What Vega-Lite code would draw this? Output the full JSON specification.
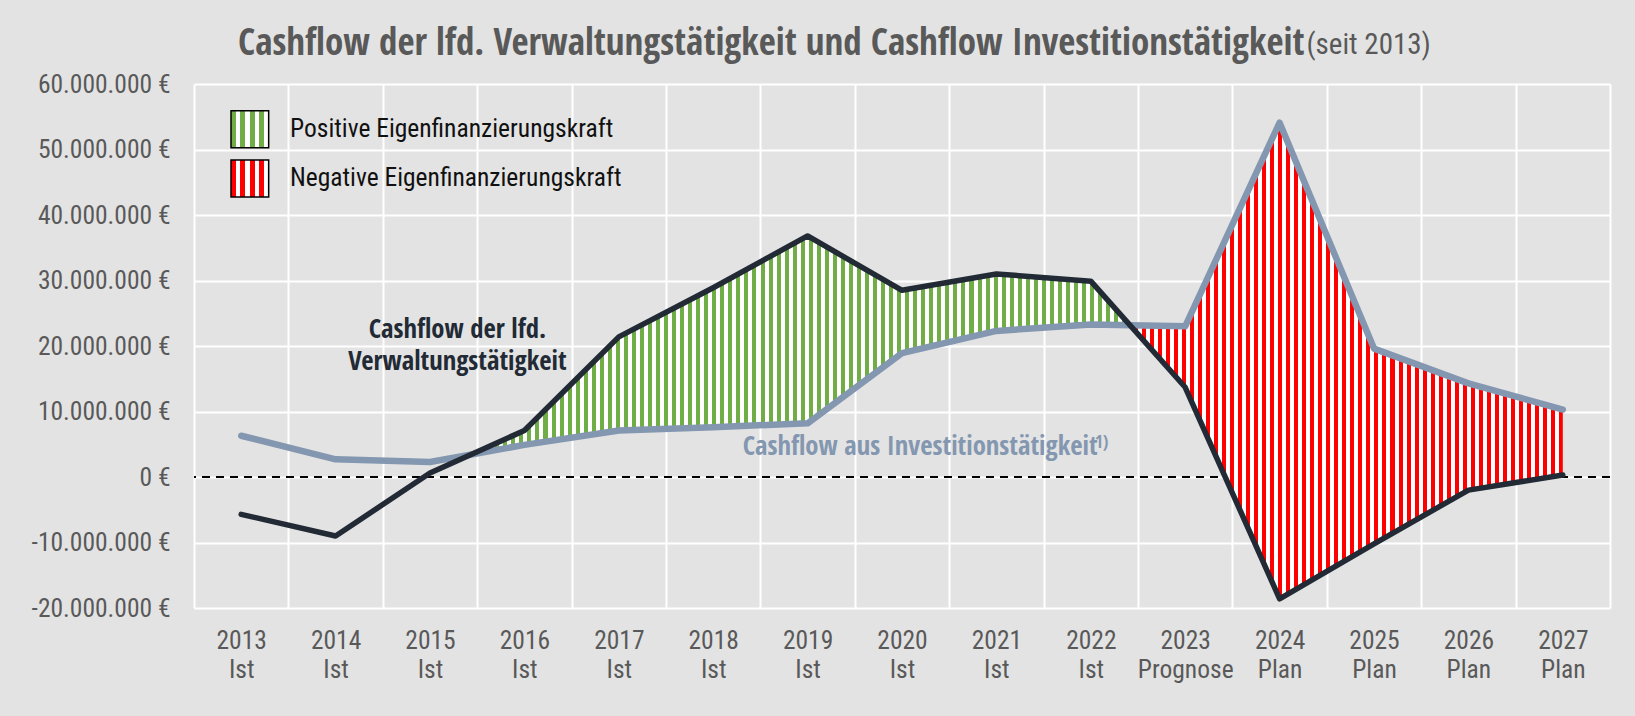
{
  "$schema": "https://vega.github.io/schema/vega-lite/v6.json",
  "width": 1416,
  "height": 524,
  "autosize": "none",
  "padding": {"left": 194, "top": 84, "right": 25, "bottom": 108},
  "background": "#e3e3e3",
  "title": {
    "text": "Cashflow der lfd. Verwaltungstätigkeit und Cashflow Investitionstätigkeit",
    "anchor": "start",
    "frame": "group",
    "dx": 44,
    "offset": -60.6,
    "baseline": "alphabetic",
    "font": "Open Sans Condensed, Roboto Condensed, Liberation Sans",
    "fontSize": 37,
    "fontWeight": "bold",
    "color": "#595959"
  },
  "config": {
    "view": {"stroke": null},
    "font": "Roboto Condensed, Liberation Sans",
    "locale": {
      "number": {"decimal": ",", "thousands": ".", "grouping": [3], "currency": ["", " €"], "minus": "-"}
    }
  },
  "datasets": {
    "cashflow": [
      {"jahr": 2013, "lfd": -5700000, "inv": 6300000},
      {"jahr": 2014, "lfd": -9000000, "inv": 2700000},
      {"jahr": 2015, "lfd": 600000, "inv": 2300000},
      {"jahr": 2016, "lfd": 7100000, "inv": 4900000},
      {"jahr": 2017, "lfd": 21400000, "inv": 7100000},
      {"jahr": 2018, "lfd": 28900000, "inv": 7600000},
      {"jahr": 2019, "lfd": 36800000, "inv": 8200000},
      {"jahr": 2020, "lfd": 28500000, "inv": 18900000},
      {"jahr": 2021, "lfd": 31000000, "inv": 22300000},
      {"jahr": 2022, "lfd": 29900000, "inv": 23300000},
      {"jahr": 2023, "lfd": 13700000, "inv": 23000000},
      {"jahr": 2024, "lfd": -18600000, "inv": 54100000},
      {"jahr": 2025, "lfd": -10200000, "inv": 19600000},
      {"jahr": 2026, "lfd": -2000000, "inv": 14300000},
      {"jahr": 2027, "lfd": 300000, "inv": 10300000}
    ],
    "positiv": [
      {"jahr": 2015.436, "oben": 3433000, "unten": 3433000},
      {"jahr": 2016, "oben": 7100000, "unten": 4900000},
      {"jahr": 2017, "oben": 21400000, "unten": 7100000},
      {"jahr": 2018, "oben": 28900000, "unten": 7600000},
      {"jahr": 2019, "oben": 36800000, "unten": 8200000},
      {"jahr": 2020, "oben": 28500000, "unten": 18900000},
      {"jahr": 2021, "oben": 31000000, "unten": 22300000},
      {"jahr": 2022, "oben": 29900000, "unten": 23300000},
      {"jahr": 2022.415, "oben": 23175000, "unten": 23175000}
    ],
    "negativ": [
      {"jahr": 2022.415, "oben": 23175000, "unten": 23175000},
      {"jahr": 2023, "oben": 23000000, "unten": 13700000},
      {"jahr": 2024, "oben": 54100000, "unten": -18600000},
      {"jahr": 2025, "oben": 19600000, "unten": -10200000},
      {"jahr": 2026, "oben": 14300000, "unten": -2000000},
      {"jahr": 2027, "oben": 10300000, "unten": 300000}
    ]
  },
  "layer": [
    {
      "data": {"values": [{"wert": 0}]},
      "mark": {"type": "rule", "color": "#000000", "strokeWidth": 2, "strokeDash": [8, 6]},
      "encoding": {
        "y": {
          "field": "wert", "type": "quantitative",
          "scale": {"domain": [-20000000, 60000000], "nice": false, "zero": false},
          "axis": {
            "values": [-20000000, -10000000, 0, 10000000, 20000000, 30000000, 40000000, 50000000, 60000000],
            "format": "$,.0f",
            "title": null,
            "grid": true, "gridColor": "#ffffff", "gridWidth": 2, "gridOpacity": 1,
            "domain": false, "ticks": false, "tickSize": 0,
            "labelPadding": 24,
            "labelFontSize": 25.5,
            "labelColor": "#595959",
            "labelFont": "Roboto Condensed, Liberation Sans"
          }
        }
      }
    },
    {
      "data": {"name": "positiv"},
      "mark": {
        "type": "area",
        "fill": {
          "gradient": "linear", "x1": 0, "y1": 0, "x2": 1, "y2": 0,
          "stops": [
            {"offset":0.0061,"color":"#70ad47"},{"offset":0.0061,"color":"#fff"},
            {"offset":0.0122,"color":"#fff"},{"offset":0.0122,"color":"#70ad47"},
            {"offset":0.0183,"color":"#70ad47"},{"offset":0.0183,"color":"#fff"},
            {"offset":0.0244,"color":"#fff"},{"offset":0.0244,"color":"#70ad47"},
            {"offset":0.0305,"color":"#70ad47"},{"offset":0.0305,"color":"#fff"},
            {"offset":0.0366,"color":"#fff"},{"offset":0.0366,"color":"#70ad47"},
            {"offset":0.0427,"color":"#70ad47"},{"offset":0.0427,"color":"#fff"},
            {"offset":0.0488,"color":"#fff"},{"offset":0.0488,"color":"#70ad47"},
            {"offset":0.0549,"color":"#70ad47"},{"offset":0.0549,"color":"#fff"},
            {"offset":0.061,"color":"#fff"},{"offset":0.061,"color":"#70ad47"},
            {"offset":0.0671,"color":"#70ad47"},{"offset":0.0671,"color":"#fff"},
            {"offset":0.0732,"color":"#fff"},{"offset":0.0732,"color":"#70ad47"},
            {"offset":0.0793,"color":"#70ad47"},{"offset":0.0793,"color":"#fff"},
            {"offset":0.0854,"color":"#fff"},{"offset":0.0854,"color":"#70ad47"},
            {"offset":0.0915,"color":"#70ad47"},{"offset":0.0915,"color":"#fff"},
            {"offset":0.0976,"color":"#fff"},{"offset":0.0976,"color":"#70ad47"},
            {"offset":0.1037,"color":"#70ad47"},{"offset":0.1037,"color":"#fff"},
            {"offset":0.1098,"color":"#fff"},{"offset":0.1098,"color":"#70ad47"},
            {"offset":0.1159,"color":"#70ad47"},{"offset":0.1159,"color":"#fff"},
            {"offset":0.122,"color":"#fff"},{"offset":0.122,"color":"#70ad47"},
            {"offset":0.1281,"color":"#70ad47"},{"offset":0.1281,"color":"#fff"},
            {"offset":0.1342,"color":"#fff"},{"offset":0.1342,"color":"#70ad47"},
            {"offset":0.1403,"color":"#70ad47"},{"offset":0.1403,"color":"#fff"},
            {"offset":0.1464,"color":"#fff"},{"offset":0.1464,"color":"#70ad47"},
            {"offset":0.1525,"color":"#70ad47"},{"offset":0.1525,"color":"#fff"},
            {"offset":0.1586,"color":"#fff"},{"offset":0.1586,"color":"#70ad47"},
            {"offset":0.1647,"color":"#70ad47"},{"offset":0.1647,"color":"#fff"},
            {"offset":0.1708,"color":"#fff"},{"offset":0.1708,"color":"#70ad47"},
            {"offset":0.1769,"color":"#70ad47"},{"offset":0.1769,"color":"#fff"},
            {"offset":0.183,"color":"#fff"},{"offset":0.183,"color":"#70ad47"},
            {"offset":0.1891,"color":"#70ad47"},{"offset":0.1891,"color":"#fff"},
            {"offset":0.1952,"color":"#fff"},{"offset":0.1952,"color":"#70ad47"},
            {"offset":0.2013,"color":"#70ad47"},{"offset":0.2013,"color":"#fff"},
            {"offset":0.2074,"color":"#fff"},{"offset":0.2074,"color":"#70ad47"},
            {"offset":0.2135,"color":"#70ad47"},{"offset":0.2135,"color":"#fff"},
            {"offset":0.2196,"color":"#fff"},{"offset":0.2196,"color":"#70ad47"},
            {"offset":0.2257,"color":"#70ad47"},{"offset":0.2257,"color":"#fff"},
            {"offset":0.2318,"color":"#fff"},{"offset":0.2318,"color":"#70ad47"},
            {"offset":0.2379,"color":"#70ad47"},{"offset":0.2379,"color":"#fff"},
            {"offset":0.244,"color":"#fff"},{"offset":0.244,"color":"#70ad47"},
            {"offset":0.2501,"color":"#70ad47"},{"offset":0.2501,"color":"#fff"},
            {"offset":0.2562,"color":"#fff"},{"offset":0.2562,"color":"#70ad47"},
            {"offset":0.2623,"color":"#70ad47"},{"offset":0.2623,"color":"#fff"},
            {"offset":0.2684,"color":"#fff"},{"offset":0.2684,"color":"#70ad47"},
            {"offset":0.2745,"color":"#70ad47"},{"offset":0.2745,"color":"#fff"},
            {"offset":0.2806,"color":"#fff"},{"offset":0.2806,"color":"#70ad47"},
            {"offset":0.2867,"color":"#70ad47"},{"offset":0.2867,"color":"#fff"},
            {"offset":0.2928,"color":"#fff"},{"offset":0.2928,"color":"#70ad47"},
            {"offset":0.2989,"color":"#70ad47"},{"offset":0.2989,"color":"#fff"},
            {"offset":0.305,"color":"#fff"},{"offset":0.305,"color":"#70ad47"},
            {"offset":0.3111,"color":"#70ad47"},{"offset":0.3111,"color":"#fff"},
            {"offset":0.3172,"color":"#fff"},{"offset":0.3172,"color":"#70ad47"},
            {"offset":0.3233,"color":"#70ad47"},{"offset":0.3233,"color":"#fff"},
            {"offset":0.3294,"color":"#fff"},{"offset":0.3294,"color":"#70ad47"},
            {"offset":0.3355,"color":"#70ad47"},{"offset":0.3355,"color":"#fff"},
            {"offset":0.3416,"color":"#fff"},{"offset":0.3416,"color":"#70ad47"},
            {"offset":0.3477,"color":"#70ad47"},{"offset":0.3477,"color":"#fff"},
            {"offset":0.3538,"color":"#fff"},{"offset":0.3538,"color":"#70ad47"},
            {"offset":0.3599,"color":"#70ad47"},{"offset":0.3599,"color":"#fff"},
            {"offset":0.366,"color":"#fff"},{"offset":0.366,"color":"#70ad47"},
            {"offset":0.3721,"color":"#70ad47"},{"offset":0.3721,"color":"#fff"},
            {"offset":0.3782,"color":"#fff"},{"offset":0.3782,"color":"#70ad47"},
            {"offset":0.3843,"color":"#70ad47"},{"offset":0.3843,"color":"#fff"},
            {"offset":0.3904,"color":"#fff"},{"offset":0.3904,"color":"#70ad47"},
            {"offset":0.3965,"color":"#70ad47"},{"offset":0.3965,"color":"#fff"},
            {"offset":0.4026,"color":"#fff"},{"offset":0.4026,"color":"#70ad47"},
            {"offset":0.4087,"color":"#70ad47"},{"offset":0.4087,"color":"#fff"},
            {"offset":0.4148,"color":"#fff"},{"offset":0.4148,"color":"#70ad47"},
            {"offset":0.4209,"color":"#70ad47"},{"offset":0.4209,"color":"#fff"},
            {"offset":0.427,"color":"#fff"},{"offset":0.427,"color":"#70ad47"},
            {"offset":0.4331,"color":"#70ad47"},{"offset":0.4331,"color":"#fff"},
            {"offset":0.4392,"color":"#fff"},{"offset":0.4392,"color":"#70ad47"},
            {"offset":0.4453,"color":"#70ad47"},{"offset":0.4453,"color":"#fff"},
            {"offset":0.4514,"color":"#fff"},{"offset":0.4514,"color":"#70ad47"},
            {"offset":0.4575,"color":"#70ad47"},{"offset":0.4575,"color":"#fff"},
            {"offset":0.4636,"color":"#fff"},{"offset":0.4636,"color":"#70ad47"},
            {"offset":0.4697,"color":"#70ad47"},{"offset":0.4697,"color":"#fff"},
            {"offset":0.4758,"color":"#fff"},{"offset":0.4758,"color":"#70ad47"},
            {"offset":0.4819,"color":"#70ad47"},{"offset":0.4819,"color":"#fff"},
            {"offset":0.488,"color":"#fff"},{"offset":0.488,"color":"#70ad47"},
            {"offset":0.4941,"color":"#70ad47"},{"offset":0.4941,"color":"#fff"},
            {"offset":0.5002,"color":"#fff"},{"offset":0.5002,"color":"#70ad47"},
            {"offset":0.5063,"color":"#70ad47"},{"offset":0.5063,"color":"#fff"},
            {"offset":0.5124,"color":"#fff"},{"offset":0.5124,"color":"#70ad47"},
            {"offset":0.5185,"color":"#70ad47"},{"offset":0.5185,"color":"#fff"},
            {"offset":0.5246,"color":"#fff"},{"offset":0.5246,"color":"#70ad47"},
            {"offset":0.5307,"color":"#70ad47"},{"offset":0.5307,"color":"#fff"},
            {"offset":0.5368,"color":"#fff"},{"offset":0.5368,"color":"#70ad47"},
            {"offset":0.5429,"color":"#70ad47"},{"offset":0.5429,"color":"#fff"},
            {"offset":0.549,"color":"#fff"},{"offset":0.549,"color":"#70ad47"},
            {"offset":0.5551,"color":"#70ad47"},{"offset":0.5551,"color":"#fff"},
            {"offset":0.5612,"color":"#fff"},{"offset":0.5612,"color":"#70ad47"},
            {"offset":0.5673,"color":"#70ad47"},{"offset":0.5673,"color":"#fff"},
            {"offset":0.5734,"color":"#fff"},{"offset":0.5734,"color":"#70ad47"},
            {"offset":0.5795,"color":"#70ad47"},{"offset":0.5795,"color":"#fff"},
            {"offset":0.5856,"color":"#fff"},{"offset":0.5856,"color":"#70ad47"},
            {"offset":0.5917,"color":"#70ad47"},{"offset":0.5917,"color":"#fff"},
            {"offset":0.5978,"color":"#fff"},{"offset":0.5978,"color":"#70ad47"},
            {"offset":0.6039,"color":"#70ad47"},{"offset":0.6039,"color":"#fff"},
            {"offset":0.61,"color":"#fff"},{"offset":0.61,"color":"#70ad47"},
            {"offset":0.6161,"color":"#70ad47"},{"offset":0.6161,"color":"#fff"},
            {"offset":0.6222,"color":"#fff"},{"offset":0.6222,"color":"#70ad47"},
            {"offset":0.6283,"color":"#70ad47"},{"offset":0.6283,"color":"#fff"},
            {"offset":0.6344,"color":"#fff"},{"offset":0.6344,"color":"#70ad47"},
            {"offset":0.6405,"color":"#70ad47"},{"offset":0.6405,"color":"#fff"},
            {"offset":0.6466,"color":"#fff"},{"offset":0.6466,"color":"#70ad47"},
            {"offset":0.6527,"color":"#70ad47"},{"offset":0.6527,"color":"#fff"},
            {"offset":0.6588,"color":"#fff"},{"offset":0.6588,"color":"#70ad47"},
            {"offset":0.6649,"color":"#70ad47"},{"offset":0.6649,"color":"#fff"},
            {"offset":0.671,"color":"#fff"},{"offset":0.671,"color":"#70ad47"},
            {"offset":0.6771,"color":"#70ad47"},{"offset":0.6771,"color":"#fff"},
            {"offset":0.6832,"color":"#fff"},{"offset":0.6832,"color":"#70ad47"},
            {"offset":0.6893,"color":"#70ad47"},{"offset":0.6893,"color":"#fff"},
            {"offset":0.6954,"color":"#fff"},{"offset":0.6954,"color":"#70ad47"},
            {"offset":0.7015,"color":"#70ad47"},{"offset":0.7015,"color":"#fff"},
            {"offset":0.7076,"color":"#fff"},{"offset":0.7076,"color":"#70ad47"},
            {"offset":0.7137,"color":"#70ad47"},{"offset":0.7137,"color":"#fff"},
            {"offset":0.7198,"color":"#fff"},{"offset":0.7198,"color":"#70ad47"},
            {"offset":0.7259,"color":"#70ad47"},{"offset":0.7259,"color":"#fff"},
            {"offset":0.732,"color":"#fff"},{"offset":0.732,"color":"#70ad47"},
            {"offset":0.7381,"color":"#70ad47"},{"offset":0.7381,"color":"#fff"},
            {"offset":0.7442,"color":"#fff"},{"offset":0.7442,"color":"#70ad47"},
            {"offset":0.7503,"color":"#70ad47"},{"offset":0.7503,"color":"#fff"},
            {"offset":0.7564,"color":"#fff"},{"offset":0.7564,"color":"#70ad47"},
            {"offset":0.7625,"color":"#70ad47"},{"offset":0.7625,"color":"#fff"},
            {"offset":0.7686,"color":"#fff"},{"offset":0.7686,"color":"#70ad47"},
            {"offset":0.7747,"color":"#70ad47"},{"offset":0.7747,"color":"#fff"},
            {"offset":0.7808,"color":"#fff"},{"offset":0.7808,"color":"#70ad47"},
            {"offset":0.7869,"color":"#70ad47"},{"offset":0.7869,"color":"#fff"},
            {"offset":0.793,"color":"#fff"},{"offset":0.793,"color":"#70ad47"},
            {"offset":0.7991,"color":"#70ad47"},{"offset":0.7991,"color":"#fff"},
            {"offset":0.8052,"color":"#fff"},{"offset":0.8052,"color":"#70ad47"},
            {"offset":0.8113,"color":"#70ad47"},{"offset":0.8113,"color":"#fff"},
            {"offset":0.8174,"color":"#fff"},{"offset":0.8174,"color":"#70ad47"},
            {"offset":0.8235,"color":"#70ad47"},{"offset":0.8235,"color":"#fff"},
            {"offset":0.8296,"color":"#fff"},{"offset":0.8296,"color":"#70ad47"},
            {"offset":0.8357,"color":"#70ad47"},{"offset":0.8357,"color":"#fff"},
            {"offset":0.8418,"color":"#fff"},{"offset":0.8418,"color":"#70ad47"},
            {"offset":0.8479,"color":"#70ad47"},{"offset":0.8479,"color":"#fff"},
            {"offset":0.854,"color":"#fff"},{"offset":0.854,"color":"#70ad47"},
            {"offset":0.8601,"color":"#70ad47"},{"offset":0.8601,"color":"#fff"},
            {"offset":0.8662,"color":"#fff"},{"offset":0.8662,"color":"#70ad47"},
            {"offset":0.8723,"color":"#70ad47"},{"offset":0.8723,"color":"#fff"},
            {"offset":0.8784,"color":"#fff"},{"offset":0.8784,"color":"#70ad47"},
            {"offset":0.8845,"color":"#70ad47"},{"offset":0.8845,"color":"#fff"},
            {"offset":0.8906,"color":"#fff"},{"offset":0.8906,"color":"#70ad47"},
            {"offset":0.8967,"color":"#70ad47"},{"offset":0.8967,"color":"#fff"},
            {"offset":0.9028,"color":"#fff"},{"offset":0.9028,"color":"#70ad47"},
            {"offset":0.9089,"color":"#70ad47"},{"offset":0.9089,"color":"#fff"},
            {"offset":0.915,"color":"#fff"},{"offset":0.915,"color":"#70ad47"},
            {"offset":0.9211,"color":"#70ad47"},{"offset":0.9211,"color":"#fff"},
            {"offset":0.9272,"color":"#fff"},{"offset":0.9272,"color":"#70ad47"},
            {"offset":0.9333,"color":"#70ad47"},{"offset":0.9333,"color":"#fff"},
            {"offset":0.9394,"color":"#fff"},{"offset":0.9394,"color":"#70ad47"},
            {"offset":0.9455,"color":"#70ad47"},{"offset":0.9455,"color":"#fff"},
            {"offset":0.9516,"color":"#fff"},{"offset":0.9516,"color":"#70ad47"},
            {"offset":0.9577,"color":"#70ad47"},{"offset":0.9577,"color":"#fff"},
            {"offset":0.9638,"color":"#fff"},{"offset":0.9638,"color":"#70ad47"},
            {"offset":0.9699,"color":"#70ad47"},{"offset":0.9699,"color":"#fff"},
            {"offset":0.976,"color":"#fff"},{"offset":0.976,"color":"#70ad47"},
            {"offset":0.9821,"color":"#70ad47"},{"offset":0.9821,"color":"#fff"},
            {"offset":0.9882,"color":"#fff"},{"offset":0.9882,"color":"#70ad47"},
            {"offset":0.9943,"color":"#70ad47"},{"offset":0.9943,"color":"#fff"}
          ]
        }
      },
      "encoding": {
        "x": {
          "field": "jahr", "type": "quantitative",
          "scale": {"domain": [2012.5, 2027.5], "nice": false, "zero": false},
          "axis": {
            "values": [2012.5, 2013.5, 2014.5, 2015.5, 2016.5, 2017.5, 2018.5, 2019.5, 2020.5, 2021.5, 2022.5, 2023.5, 2024.5, 2025.5, 2026.5, 2027.5],
            "labelExpr": "datum.value > 2027 ? '' : [toString(datum.value + 0.5), datum.value + 0.5 == 2023 ? 'Prognose' : (datum.value + 0.5 > 2023 ? 'Plan' : 'Ist')]",
            "labelOffset": 47.2,
            "title": null,
            "grid": true, "gridColor": "#ffffff", "gridWidth": 2, "gridOpacity": 1,
            "domain": false, "ticks": false, "tickSize": 0,
            "labelPadding": 20.7,
            "labelBaseline": "top",
            "labelLineHeight": 29.3,
            "labelFontSize": 25.5,
            "labelColor": "#595959",
            "labelFont": "Roboto Condensed, Liberation Sans",
            "labelOverlap": false,
            "labelFlush": false,
            "labelBound": false
          }
        },
        "y": {"field": "oben", "type": "quantitative", "scale": {"domain": [-20000000, 60000000], "nice": false, "zero": false}},
        "y2": {"field": "unten"}
      }
    },
    {
      "data": {"name": "negativ"},
      "mark": {
        "type": "area",
        "fill": {
          "gradient": "linear", "x1": 0, "y1": 0, "x2": 1, "y2": 0,
          "stops": [
            {"offset":0.00926,"color":"#fff"},{"offset":0.00926,"color":"#f00"},
            {"offset":0.01852,"color":"#f00"},{"offset":0.01852,"color":"#fff"},
            {"offset":0.02778,"color":"#fff"},{"offset":0.02778,"color":"#f00"},
            {"offset":0.03704,"color":"#f00"},{"offset":0.03704,"color":"#fff"},
            {"offset":0.0463,"color":"#fff"},{"offset":0.0463,"color":"#f00"},
            {"offset":0.05556,"color":"#f00"},{"offset":0.05556,"color":"#fff"},
            {"offset":0.06482,"color":"#fff"},{"offset":0.06482,"color":"#f00"},
            {"offset":0.07408,"color":"#f00"},{"offset":0.07408,"color":"#fff"},
            {"offset":0.08334,"color":"#fff"},{"offset":0.08334,"color":"#f00"},
            {"offset":0.0926,"color":"#f00"},{"offset":0.0926,"color":"#fff"},
            {"offset":0.10186,"color":"#fff"},{"offset":0.10186,"color":"#f00"},
            {"offset":0.11112,"color":"#f00"},{"offset":0.11112,"color":"#fff"},
            {"offset":0.12038,"color":"#fff"},{"offset":0.12038,"color":"#f00"},
            {"offset":0.12964,"color":"#f00"},{"offset":0.12964,"color":"#fff"},
            {"offset":0.1389,"color":"#fff"},{"offset":0.1389,"color":"#f00"},
            {"offset":0.14816,"color":"#f00"},{"offset":0.14816,"color":"#fff"},
            {"offset":0.15742,"color":"#fff"},{"offset":0.15742,"color":"#f00"},
            {"offset":0.16668,"color":"#f00"},{"offset":0.16668,"color":"#fff"},
            {"offset":0.17594,"color":"#fff"},{"offset":0.17594,"color":"#f00"},
            {"offset":0.1852,"color":"#f00"},{"offset":0.1852,"color":"#fff"},
            {"offset":0.19446,"color":"#fff"},{"offset":0.19446,"color":"#f00"},
            {"offset":0.20372,"color":"#f00"},{"offset":0.20372,"color":"#fff"},
            {"offset":0.21298,"color":"#fff"},{"offset":0.21298,"color":"#f00"},
            {"offset":0.22224,"color":"#f00"},{"offset":0.22224,"color":"#fff"},
            {"offset":0.2315,"color":"#fff"},{"offset":0.2315,"color":"#f00"},
            {"offset":0.24076,"color":"#f00"},{"offset":0.24076,"color":"#fff"},
            {"offset":0.25002,"color":"#fff"},{"offset":0.25002,"color":"#f00"},
            {"offset":0.25928,"color":"#f00"},{"offset":0.25928,"color":"#fff"},
            {"offset":0.26854,"color":"#fff"},{"offset":0.26854,"color":"#f00"},
            {"offset":0.2778,"color":"#f00"},{"offset":0.2778,"color":"#fff"},
            {"offset":0.28706,"color":"#fff"},{"offset":0.28706,"color":"#f00"},
            {"offset":0.29632,"color":"#f00"},{"offset":0.29632,"color":"#fff"},
            {"offset":0.30558,"color":"#fff"},{"offset":0.30558,"color":"#f00"},
            {"offset":0.31484,"color":"#f00"},{"offset":0.31484,"color":"#fff"},
            {"offset":0.3241,"color":"#fff"},{"offset":0.3241,"color":"#f00"},
            {"offset":0.33336,"color":"#f00"},{"offset":0.33336,"color":"#fff"},
            {"offset":0.34262,"color":"#fff"},{"offset":0.34262,"color":"#f00"},
            {"offset":0.35188,"color":"#f00"},{"offset":0.35188,"color":"#fff"},
            {"offset":0.36114,"color":"#fff"},{"offset":0.36114,"color":"#f00"},
            {"offset":0.3704,"color":"#f00"},{"offset":0.3704,"color":"#fff"},
            {"offset":0.37966,"color":"#fff"},{"offset":0.37966,"color":"#f00"},
            {"offset":0.38892,"color":"#f00"},{"offset":0.38892,"color":"#fff"},
            {"offset":0.39818,"color":"#fff"},{"offset":0.39818,"color":"#f00"},
            {"offset":0.40744,"color":"#f00"},{"offset":0.40744,"color":"#fff"},
            {"offset":0.4167,"color":"#fff"},{"offset":0.4167,"color":"#f00"},
            {"offset":0.42596,"color":"#f00"},{"offset":0.42596,"color":"#fff"},
            {"offset":0.43522,"color":"#fff"},{"offset":0.43522,"color":"#f00"},
            {"offset":0.44448,"color":"#f00"},{"offset":0.44448,"color":"#fff"},
            {"offset":0.45374,"color":"#fff"},{"offset":0.45374,"color":"#f00"},
            {"offset":0.463,"color":"#f00"},{"offset":0.463,"color":"#fff"},
            {"offset":0.47226,"color":"#fff"},{"offset":0.47226,"color":"#f00"},
            {"offset":0.48152,"color":"#f00"},{"offset":0.48152,"color":"#fff"},
            {"offset":0.49078,"color":"#fff"},{"offset":0.49078,"color":"#f00"},
            {"offset":0.50004,"color":"#f00"},{"offset":0.50004,"color":"#fff"},
            {"offset":0.5093,"color":"#fff"},{"offset":0.5093,"color":"#f00"},
            {"offset":0.51856,"color":"#f00"},{"offset":0.51856,"color":"#fff"},
            {"offset":0.52782,"color":"#fff"},{"offset":0.52782,"color":"#f00"},
            {"offset":0.53708,"color":"#f00"},{"offset":0.53708,"color":"#fff"},
            {"offset":0.54634,"color":"#fff"},{"offset":0.54634,"color":"#f00"},
            {"offset":0.5556,"color":"#f00"},{"offset":0.5556,"color":"#fff"},
            {"offset":0.56486,"color":"#fff"},{"offset":0.56486,"color":"#f00"},
            {"offset":0.57412,"color":"#f00"},{"offset":0.57412,"color":"#fff"},
            {"offset":0.58338,"color":"#fff"},{"offset":0.58338,"color":"#f00"},
            {"offset":0.59264,"color":"#f00"},{"offset":0.59264,"color":"#fff"},
            {"offset":0.6019,"color":"#fff"},{"offset":0.6019,"color":"#f00"},
            {"offset":0.61116,"color":"#f00"},{"offset":0.61116,"color":"#fff"},
            {"offset":0.62042,"color":"#fff"},{"offset":0.62042,"color":"#f00"},
            {"offset":0.62968,"color":"#f00"},{"offset":0.62968,"color":"#fff"},
            {"offset":0.63894,"color":"#fff"},{"offset":0.63894,"color":"#f00"},
            {"offset":0.6482,"color":"#f00"},{"offset":0.6482,"color":"#fff"},
            {"offset":0.65746,"color":"#fff"},{"offset":0.65746,"color":"#f00"},
            {"offset":0.66672,"color":"#f00"},{"offset":0.66672,"color":"#fff"},
            {"offset":0.67598,"color":"#fff"},{"offset":0.67598,"color":"#f00"},
            {"offset":0.68524,"color":"#f00"},{"offset":0.68524,"color":"#fff"},
            {"offset":0.6945,"color":"#fff"},{"offset":0.6945,"color":"#f00"},
            {"offset":0.70376,"color":"#f00"},{"offset":0.70376,"color":"#fff"},
            {"offset":0.71302,"color":"#fff"},{"offset":0.71302,"color":"#f00"},
            {"offset":0.72228,"color":"#f00"},{"offset":0.72228,"color":"#fff"},
            {"offset":0.73154,"color":"#fff"},{"offset":0.73154,"color":"#f00"},
            {"offset":0.7408,"color":"#f00"},{"offset":0.7408,"color":"#fff"},
            {"offset":0.75006,"color":"#fff"},{"offset":0.75006,"color":"#f00"},
            {"offset":0.75932,"color":"#f00"},{"offset":0.75932,"color":"#fff"},
            {"offset":0.76858,"color":"#fff"},{"offset":0.76858,"color":"#f00"},
            {"offset":0.77784,"color":"#f00"},{"offset":0.77784,"color":"#fff"},
            {"offset":0.7871,"color":"#fff"},{"offset":0.7871,"color":"#f00"},
            {"offset":0.79636,"color":"#f00"},{"offset":0.79636,"color":"#fff"},
            {"offset":0.80562,"color":"#fff"},{"offset":0.80562,"color":"#f00"},
            {"offset":0.81488,"color":"#f00"},{"offset":0.81488,"color":"#fff"},
            {"offset":0.82414,"color":"#fff"},{"offset":0.82414,"color":"#f00"},
            {"offset":0.8334,"color":"#f00"},{"offset":0.8334,"color":"#fff"},
            {"offset":0.84266,"color":"#fff"},{"offset":0.84266,"color":"#f00"},
            {"offset":0.85192,"color":"#f00"},{"offset":0.85192,"color":"#fff"},
            {"offset":0.86118,"color":"#fff"},{"offset":0.86118,"color":"#f00"},
            {"offset":0.87044,"color":"#f00"},{"offset":0.87044,"color":"#fff"},
            {"offset":0.8797,"color":"#fff"},{"offset":0.8797,"color":"#f00"},
            {"offset":0.88896,"color":"#f00"},{"offset":0.88896,"color":"#fff"},
            {"offset":0.89822,"color":"#fff"},{"offset":0.89822,"color":"#f00"},
            {"offset":0.90748,"color":"#f00"},{"offset":0.90748,"color":"#fff"},
            {"offset":0.91674,"color":"#fff"},{"offset":0.91674,"color":"#f00"},
            {"offset":0.926,"color":"#f00"},{"offset":0.926,"color":"#fff"},
            {"offset":0.93526,"color":"#fff"},{"offset":0.93526,"color":"#f00"},
            {"offset":0.94452,"color":"#f00"},{"offset":0.94452,"color":"#fff"},
            {"offset":0.95378,"color":"#fff"},{"offset":0.95378,"color":"#f00"},
            {"offset":0.96304,"color":"#f00"},{"offset":0.96304,"color":"#fff"},
            {"offset":0.9723,"color":"#fff"},{"offset":0.9723,"color":"#f00"},
            {"offset":0.98156,"color":"#f00"},{"offset":0.98156,"color":"#fff"},
            {"offset":0.99082,"color":"#fff"},{"offset":0.99082,"color":"#f00"}
          ]
        }
      },
      "encoding": {
        "x": {"field": "jahr", "type": "quantitative", "scale": {"domain": [2012.5, 2027.5], "nice": false, "zero": false}},
        "y": {"field": "oben", "type": "quantitative", "scale": {"domain": [-20000000, 60000000], "nice": false, "zero": false}},
        "y2": {"field": "unten"}
      }
    },
    {
      "data": {"name": "cashflow"},
      "mark": {"type": "line", "color": "#8497b0", "strokeWidth": 6.5, "strokeJoin": "round", "strokeCap": "round"},
      "encoding": {
        "x": {"field": "jahr", "type": "quantitative", "scale": {"domain": [2012.5, 2027.5], "nice": false, "zero": false}},
        "y": {"field": "inv", "type": "quantitative", "scale": {"domain": [-20000000, 60000000], "nice": false, "zero": false}}
      }
    },
    {
      "data": {"name": "cashflow"},
      "mark": {"type": "line", "color": "#222a35", "strokeWidth": 5.5, "strokeJoin": "round", "strokeCap": "round"},
      "encoding": {
        "x": {"field": "jahr", "type": "quantitative", "scale": {"domain": [2012.5, 2027.5], "nice": false, "zero": false}},
        "y": {"field": "lfd", "type": "quantitative", "scale": {"domain": [-20000000, 60000000], "nice": false, "zero": false}}
      }
    },
    {
      "data": {"values": [{"beschriftung": "Cashflow der lfd.\nVerwaltungstätigkeit"}]},
      "mark": {"type": "text", "align": "center", "baseline": "alphabetic", "lineBreak": "\n", "lineHeight": 32, "font": "Open Sans Condensed, Roboto Condensed, Liberation Sans", "fontSize": 26.67, "fontWeight": "bold", "color": "#222a35"},
      "encoding": {
        "x": {"datum": 2015.29, "type": "quantitative", "scale": {"domain": [2012.5, 2027.5], "nice": false, "zero": false}},
        "y": {"datum": 21180000, "type": "quantitative", "scale": {"domain": [-20000000, 60000000], "nice": false, "zero": false}},
        "text": {"field": "beschriftung", "type": "nominal"}
      }
    },
    {
      "data": {"values": [{"beschriftung": "Cashflow aus Investitionstätigkeit"}]},
      "mark": {"type": "text", "align": "left", "baseline": "alphabetic", "font": "Open Sans Condensed, Roboto Condensed, Liberation Sans", "fontSize": 26.67, "fontWeight": "bold", "color": "#8497b0"},
      "encoding": {
        "x": {"datum": 2018.313, "type": "quantitative", "scale": {"domain": [2012.5, 2027.5], "nice": false, "zero": false}},
        "y": {"datum": 3360000, "type": "quantitative", "scale": {"domain": [-20000000, 60000000], "nice": false, "zero": false}},
        "text": {"field": "beschriftung", "type": "nominal"}
      }
    },
    {
      "data": {"values": [{"beschriftung": "1)"}]},
      "mark": {"type": "text", "align": "left", "baseline": "alphabetic", "font": "Open Sans Condensed, Roboto Condensed, Liberation Sans", "fontSize": 17, "fontWeight": "bold", "color": "#8497b0"},
      "encoding": {
        "x": {"datum": 2022.044, "type": "quantitative", "scale": {"domain": [2012.5, 2027.5], "nice": false, "zero": false}},
        "y": {"datum": 4430000, "type": "quantitative", "scale": {"domain": [-20000000, 60000000], "nice": false, "zero": false}},
        "text": {"field": "beschriftung", "type": "nominal"}
      }
    },
    {
      "data": {"values": [{"beschriftung": "(seit 2013)"}]},
      "mark": {"type": "text", "align": "left", "baseline": "alphabetic", "font": "Roboto Condensed, Liberation Sans", "fontSize": 29, "color": "#595959"},
      "encoding": {
        "x": {"datum": 2024.285, "type": "quantitative", "scale": {"domain": [2012.5, 2027.5], "nice": false, "zero": false}},
        "y": {"datum": 64530000, "type": "quantitative", "scale": {"domain": [-20000000, 60000000], "nice": false, "zero": false}},
        "text": {"field": "beschriftung", "type": "nominal"}
      }
    },
    {
      "data": {"values": [{"typ": "Positive Eigenfinanzierungskraft"}]},
      "layer": [
        {
          "mark": {
            "type": "rect", "stroke": "#000000", "strokeWidth": 1.5,
            "fill": {
              "gradient": "linear", "x1": 0, "y1": 0, "x2": 1, "y2": 0,
              "stops": [
                {"offset":0.125,"color":"#70ad47"},{"offset":0.125,"color":"#fff"},
                {"offset":0.25,"color":"#fff"},{"offset":0.25,"color":"#70ad47"},
                {"offset":0.375,"color":"#70ad47"},{"offset":0.375,"color":"#fff"},
                {"offset":0.5,"color":"#fff"},{"offset":0.5,"color":"#70ad47"},
                {"offset":0.625,"color":"#70ad47"},{"offset":0.625,"color":"#fff"},
                {"offset":0.75,"color":"#fff"},{"offset":0.75,"color":"#70ad47"},
                {"offset":0.875,"color":"#70ad47"},{"offset":0.875,"color":"#fff"}
              ]
            }
          },
          "encoding": {
            "x": {"datum": 2012.892, "type": "quantitative", "scale": {"domain": [2012.5, 2027.5], "nice": false, "zero": false}},
            "x2": {"datum": 2013.291},
            "y": {"datum": 55924000, "type": "quantitative", "scale": {"domain": [-20000000, 60000000], "nice": false, "zero": false}},
            "y2": {"datum": 50275000}
          }
        },
        {
          "mark": {"type": "text", "align": "left", "baseline": "middle", "font": "Roboto Condensed, Liberation Sans", "fontSize": 25.5, "color": "#111111"},
          "encoding": {
            "x": {"datum": 2013.517, "type": "quantitative", "scale": {"domain": [2012.5, 2027.5], "nice": false, "zero": false}},
            "y": {"datum": 53099000, "type": "quantitative", "scale": {"domain": [-20000000, 60000000], "nice": false, "zero": false}},
            "text": {"field": "typ", "type": "nominal"}
          }
        }
      ]
    },
    {
      "data": {"values": [{"typ": "Negative Eigenfinanzierungskraft"}]},
      "layer": [
        {
          "mark": {
            "type": "rect", "stroke": "#000000", "strokeWidth": 1.5,
            "fill": {
              "gradient": "linear", "x1": 0, "y1": 0, "x2": 1, "y2": 0,
              "stops": [
                {"offset":0.125,"color":"#f00"},{"offset":0.125,"color":"#fff"},
                {"offset":0.25,"color":"#fff"},{"offset":0.25,"color":"#f00"},
                {"offset":0.375,"color":"#f00"},{"offset":0.375,"color":"#fff"},
                {"offset":0.5,"color":"#fff"},{"offset":0.5,"color":"#f00"},
                {"offset":0.625,"color":"#f00"},{"offset":0.625,"color":"#fff"},
                {"offset":0.75,"color":"#fff"},{"offset":0.75,"color":"#f00"},
                {"offset":0.875,"color":"#f00"},{"offset":0.875,"color":"#fff"}
              ]
            }
          },
          "encoding": {
            "x": {"datum": 2012.892, "type": "quantitative", "scale": {"domain": [2012.5, 2027.5], "nice": false, "zero": false}},
            "x2": {"datum": 2013.291},
            "y": {"datum": 48397000, "type": "quantitative", "scale": {"domain": [-20000000, 60000000], "nice": false, "zero": false}},
            "y2": {"datum": 42748000}
          }
        },
        {
          "mark": {"type": "text", "align": "left", "baseline": "middle", "font": "Roboto Condensed, Liberation Sans", "fontSize": 25.5, "color": "#111111"},
          "encoding": {
            "x": {"datum": 2013.517, "type": "quantitative", "scale": {"domain": [2012.5, 2027.5], "nice": false, "zero": false}},
            "y": {"datum": 45573000, "type": "quantitative", "scale": {"domain": [-20000000, 60000000], "nice": false, "zero": false}},
            "text": {"field": "typ", "type": "nominal"}
          }
        }
      ]
    }
  ]
}
